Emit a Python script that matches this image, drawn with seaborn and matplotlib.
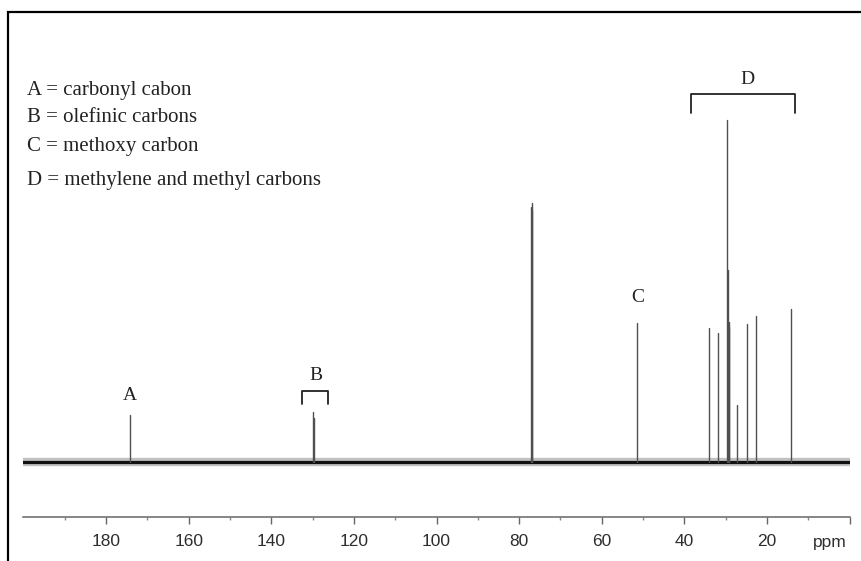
import pandas as pd
import matplotlib.pyplot as plt
import seaborn as sns
from matplotlib.patches import Rectangle

# === DATA: 13C NMR stick spectrum (ppm, relative intensity) ===
peak_ppm = [174.3, 130.0, 129.7, 77.2, 77.0, 76.8, 51.4,
            34.1, 31.9, 29.77, 29.5, 29.3, 29.1, 27.2, 24.9, 22.7, 14.1]
peak_height = [47, 50, 44, 255, 259, 252, 139,
               134, 129, 342, 192, 140, 135, 57, 138, 146, 153]

tick_values = [180, 160, 140, 120, 100, 80, 60, 40, 20]
tick_labels = ["180", "160", "140", "120", "100", "80", "60", "40", "20"]

legend_lines = [
    "A = carbonyl cabon",
    "B = olefinic carbons",
    "C = methoxy carbon",
    "D = methylene and methyl carbons",
]

# === Build a long table: one short line per peak ===
rows = []
for i, (p, h) in enumerate(zip(peak_ppm, peak_height)):
    rows.append({"peak": i, "ppm": p, "intensity": 0})
    rows.append({"peak": i, "ppm": p, "intensity": h})
df = pd.DataFrame(rows)

# === Plotting Setup ===
sns.set_theme(style="white")
plt.rcParams["font.family"] = ["Liberation Sans", "DejaVu Sans"]

W, H = 861, 561
fig = plt.figure(figsize=(W / 100, H / 100), dpi=100)
ax = fig.add_axes([23.4 / W, (H - 517) / H, (849.6 - 23.4) / W, (517 - 60) / H])

# noisy-looking baseline band
ax.axhline(0, color="#777777", lw=6, alpha=0.45, zorder=1)
ax.axhline(0, color="#111111", lw=2.3, zorder=2)

sns.lineplot(data=df, x="ppm", y="intensity", units="peak", estimator=None,
             sort=False, color="#505050", lw=1.0, ax=ax, zorder=3)

ax.set_xlim(200, 0)
ax.set_ylim(-55, 402)
ax.set_xlabel("")
ax.set_ylabel("")
ax.set_yticks([])

ax.set_xticks(tick_values + [0])
ax.set_xticklabels(tick_labels + [""])
ax.set_xticks(range(10, 200, 20), minor=True)
ax.tick_params(axis="x", which="major", direction="out", length=5, width=1,
               color="#666666", labelsize=12.5, labelcolor="#2e2e2e", pad=7,
               bottom=True)
ax.tick_params(axis="x", which="minor", direction="out", length=2.5, width=1,
               color="#888888", bottom=True)

for side in ["top", "left", "right"]:
    ax.spines[side].set_visible(False)
ax.spines["bottom"].set_color("#666666")
ax.spines["bottom"].set_linewidth(1.1)
ax.patch.set_alpha(0)

fig.text(830 / W, 1 - 542 / H, "ppm", ha="center", va="center",
         fontsize=12.5, color="#2e2e2e")

# === Group labels and brackets ===
serif = ["Liberation Serif", "DejaVu Serif"]
lab = dict(ha="center", va="center", fontsize=14, family=serif, color="#222222")
ax.text(174.3, 66, "A", **lab)
ax.text(129.3, 86, "B", **lab)
ax.text(51.4, 164, "C", **lab)
ax.text(24.7, 382, "D", **lab)

ax.plot([132.6, 132.6, 126.2, 126.2], [58, 71, 71, 58], color="#222222", lw=1.3)
ax.plot([38.5, 38.5, 13.3, 13.3], [349, 368, 368, 349], color="#222222", lw=1.3)

# === Legend text ===
for txt, y in zip(legend_lines, [90, 118, 147, 180]):
    fig.text(27 / W, 1 - y / H, txt, ha="left", va="center", fontsize=15,
             family=serif, color="#222222")

# === Outer frame ===
fig.patches.append(Rectangle((8 / W, -0.1), 1.2, 1.1 - 11.5 / H,
                             transform=fig.transFigure, fill=False,
                             edgecolor="black", lw=1.6))

fig.savefig("out.png", dpi=100)
